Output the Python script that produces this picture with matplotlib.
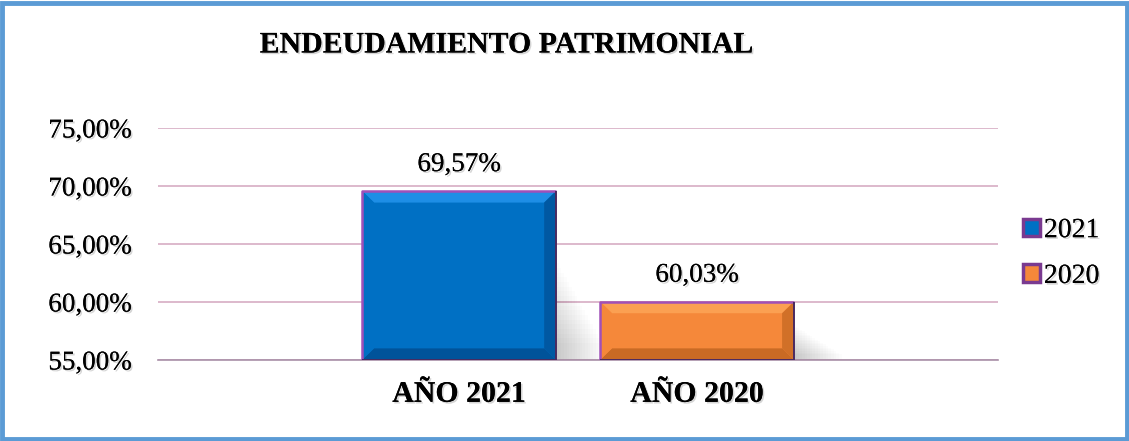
import matplotlib
matplotlib.use("Agg")
import matplotlib.pyplot as plt
import matplotlib.patheffects as pe
from matplotlib.patches import Polygon, Patch, Rectangle

categories = ["AÑO 2021", "AÑO 2020"]
series = ["2021", "2020"]
values = [69.57, 60.03]
yticks = [55, 60, 65, 70, 75]
colors = ["#0070C4", "#F5883A"]
light = ["#1E8EE6", "#FBA052"]
dark = ["#00539A", "#C96A24"]
EDGE = "#7A3A90"

plt.rcParams["font.family"] = ["Liberation Serif", "DejaVu Serif"]
shadow = [pe.withSimplePatchShadow(offset=(1.2, -1.2), shadow_rgbFace="#888888", alpha=0.35), pe.Normal()]

fig = plt.figure(figsize=(11.29, 4.41), dpi=100)
ax = fig.add_axes([0.140, 0.1837, 0.744, 0.5261])
ymin = 55
width = 0.815
bx, by = 0.05, 1.0  # bevel size in data units


def bevel_bar(ax, x, top, i):
    l, r, b, t = x - width / 2, x + width / 2, ymin, top
    ax.add_patch(Rectangle((l, b), width, t - b, facecolor=colors[i], edgecolor="none", zorder=3))
    ax.add_patch(Polygon([(l, t), (r, t), (r - bx, t - by), (l + bx, t - by)], closed=True,
                         facecolor=light[i], edgecolor="none", zorder=4))
    ax.add_patch(Polygon([(l, b), (r, b), (r - bx, b + by), (l + bx, b + by)], closed=True,
                         facecolor=dark[i], edgecolor="none", zorder=4))
    ax.add_patch(Polygon([(r, b), (r, t), (r - bx, t - by), (r - bx, b + by)], closed=True,
                         facecolor=dark[i], edgecolor="none", zorder=4, alpha=0.8))
    ax.add_patch(Polygon([(l, b), (l, t), (l + bx, t - by), (l + bx, b + by)], closed=True,
                         facecolor=colors[i], edgecolor="none", zorder=4))
    ax.plot([l, l, r], [b, t, t], color="#A050B8", lw=1.8, zorder=5, solid_capstyle="butt")
    ax.plot([l, r, r], [b, b, t], color="#4A2A60", lw=1.4, zorder=5, solid_capstyle="butt")
    # soft shadow to the right
    n = 18
    for k in range(n):
        f = (k + 1) / n
        ax.add_patch(Rectangle((r, b), 0.2 * f, (t - b) * 0.5 * (1.2 - f), facecolor="#000000",
                               alpha=0.012, edgecolor="none", zorder=2))


xs = list(range(len(categories)))
for i, (x, v) in enumerate(zip(xs, values)):
    bevel_bar(ax, x, v, i)
    ax.annotate(f"{v:.2f}%".replace(".", ","), (x, v), xytext=(0, 10), textcoords="offset points",
                ha="center", va="bottom", fontsize=19.5, color="black", path_effects=shadow)

ax.set_xlim(-1.265, 2.265)
ax.set_ylim(55, 75)
ax.set_yticks(yticks)
ax.set_yticklabels([f"{t:.2f}%".replace(".", ",") for t in yticks], fontsize=19.5)
for lab in ax.get_yticklabels():
    lab.set_path_effects(shadow)
ax.set_xticks(xs)
ax.set_xticklabels(categories, fontsize=21.5, fontweight="bold")
for lab in ax.get_xticklabels():
    lab.set_path_effects(shadow)
ax.tick_params(axis="y", length=0, pad=19)
ax.tick_params(axis="x", length=0, pad=15)
ax.grid(axis="y", color="#D3A5BE", lw=1.1, zorder=0)
ax.set_axisbelow(True)
for s in ["left", "right", "top"]:
    ax.spines[s].set_visible(False)
ax.spines["bottom"].set_color("#A990A8")
ax.spines["bottom"].set_linewidth(1.2)

fig.text(0.449, 0.898, "ENDEUDAMIENTO PATRIMONIAL", ha="center", va="center",
         fontsize=21.5, fontweight="bold", path_effects=shadow)

handles = [Patch(facecolor=c, edgecolor=EDGE, linewidth=2.5) for c in colors]
leg = fig.legend(handles, series, loc="center left", bbox_to_anchor=(0.884, 0.425), frameon=False,
                 fontsize=20, handlelength=0.6, handleheight=0.6, handletextpad=0.15, labelspacing=0.75)
for t in leg.get_texts():
    t.set_path_effects(shadow)

fig.patches.append(Rectangle((0.002, 0.004), 0.996, 0.99, transform=fig.transFigure, fill=False,
                             edgecolor="#5B9BD5", linewidth=3.5))

fig.savefig("out.png", dpi=100)
